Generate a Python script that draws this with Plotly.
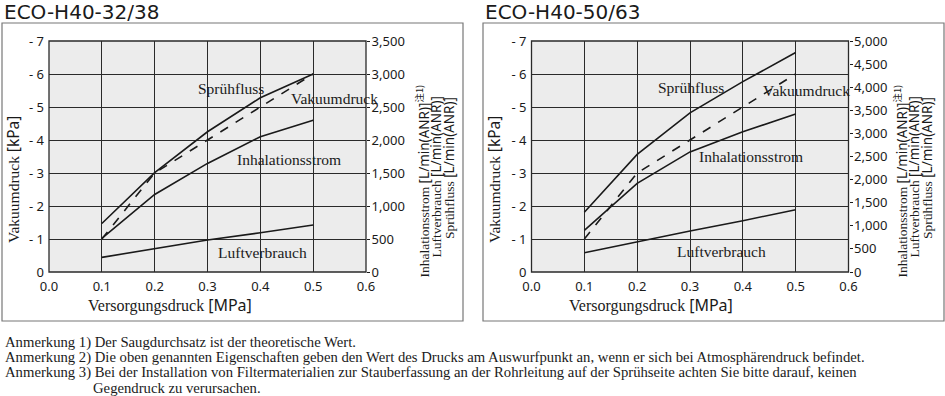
import plotly.graph_objects as go

# ---------------- data ----------------
pressure = [0.1, 0.2, 0.3, 0.4, 0.5]

# ECO-H40-32/38
left_spray = [735, 1505, 2125, 2640, 3000]        # Sprühfluss [L/min]
left_vacuum = [-1.0, -3.0, -4.0, -5.0, -6.0]      # Vakuumdruck [kPa]
left_inhal = [510, 1175, 1645, 2050, 2300]        # Inhalationsstrom [L/min]
left_air = [222, 348, 485, 595, 712]              # Luftverbrauch [L/min]

# ECO-H40-50/63
right_spray = [1295, 2545, 3445, 4120, 4750]
right_vacuum = [-1.0, -3.0, -4.0, -5.0, -6.0]
right_inhal = [900, 1920, 2600, 3035, 3420]
right_air = [418, 656, 887, 1110, 1349]

titles = ["ECO-H40-32/38", "ECO-H40-50/63"]
left_ticks = [0, -1, -2, -3, -4, -5, -6, -7]
left_ticktext = ["0", "- 1", "- 2", "- 3", "- 4", "- 5", "- 6", "- 7"]
x_ticks = [0.0, 0.1, 0.2, 0.3, 0.4, 0.5, 0.6]
right_max = [3500, 5000]

notes = [
    "Anmerkung 1) Der Saugdurchsatz ist der theoretische Wert.",
    "Anmerkung 2) Die oben genannten Eigenschaften geben den Wert des Drucks am Auswurfpunkt an, wenn er sich bei Atmosphärendruck befindet.",
    "Anmerkung 3) Bei der Installation von Filtermaterialien zur Stauberfassung an der Rohrleitung auf der Sprühseite achten Sie bitte darauf, keinen",
    "Gegendruck zu verursachen.",
]

# ---------------- layout helpers ----------------
W, H = 945, 396
def px(x):
    return x / W
def py(y):
    return 1 - y / H

SERIF = "Liberation Serif, Times New Roman, serif"
SANS = "Noto Sans, Open Sans, sans-serif"
INK = "#1a1a1a"

fig = go.Figure()

line = dict(color=INK, width=1.6)
dash = dict(color=INK, width=1.6, dash="dash")

panels = [
    dict(xa="x", ya="y", ya2="y2", spray=left_spray, vac=left_vacuum, inhal=left_inhal, air=left_air),
    dict(xa="x2", ya="y3", ya2="y4", spray=right_spray, vac=right_vacuum, inhal=right_inhal, air=right_air),
]
for p in panels:
    fig.add_trace(go.Scatter(x=pressure, y=p["spray"], xaxis=p["xa"], yaxis=p["ya2"], mode="lines", line=line, name="Sprühfluss"))
    fig.add_trace(go.Scatter(x=pressure, y=p["inhal"], xaxis=p["xa"], yaxis=p["ya2"], mode="lines", line=line, name="Inhalationsstrom"))
    fig.add_trace(go.Scatter(x=pressure, y=p["air"], xaxis=p["xa"], yaxis=p["ya2"], mode="lines", line=line, name="Luftverbrauch"))
    fig.add_trace(go.Scatter(x=pressure, y=p["vac"], xaxis=p["xa"], yaxis=p["ya"], mode="lines", line=dash, name="Vakuumdruck"))

ydom = [py(272), py(41)]
xdoms = [[px(49), px(366)], [px(531.5), px(848.5)]]

tickfont = dict(family=SANS, size=13, color=INK)
grid = dict(showgrid=True, gridcolor="#2a2a2a", gridwidth=1.3)

common_x = dict(range=[0, 0.6], tickvals=x_ticks, tickformat=".1f", tickfont=tickfont,
                zeroline=False, showline=False, ticks="", automargin=False, ticklabelstandoff=5, **grid)
common_yl = dict(domain=ydom, range=[0, -7], tickvals=left_ticks, ticktext=left_ticktext,
                 tickfont=tickfont, zeroline=False, showline=False, ticks="", automargin=False,
                 ticklabelstandoff=4, **grid)
common_yr = dict(domain=ydom, side="right", dtick=500, tickformat=",d", tickfont=tickfont,
                 showgrid=False, zeroline=False, ticks="outside", ticklen=3, tickcolor=INK,
                 tickwidth=1.2, showline=False, automargin=False, ticklabelstandoff=-1)
fig.update_layout(
    xaxis=dict(domain=xdoms[0], anchor="y", **common_x),
    xaxis2=dict(domain=xdoms[1], anchor="y3", **common_x),
    yaxis=dict(anchor="x", **common_yl),
    yaxis2=dict(anchor="x", overlaying="y", range=[0, right_max[0]], **common_yr),
    yaxis3=dict(anchor="x2", **common_yl),
    yaxis4=dict(anchor="x2", overlaying="y3", range=[0, right_max[1]], **common_yr),
    width=W, height=H,
    margin=dict(l=0, r=0, t=0, b=0, pad=0, autoexpand=False),
    paper_bgcolor="white",
    plot_bgcolor="#ececec",
    showlegend=False,
)

shapes = []
# plot frames
for xd in xdoms:
    shapes.append(dict(type="rect", xref="paper", yref="paper", x0=xd[0], x1=xd[1], y0=ydom[0], y1=ydom[1],
                       line=dict(color="#2a2a2a", width=1.3)))
# outer panel boxes
for x0, x1 in [(2, 463), (483, 944)]:
    shapes.append(dict(type="rect", xref="paper", yref="paper", x0=px(x0), x1=px(x1), y0=py(321), y1=py(23),
                       line=dict(color="#777777", width=1.2)))
fig.update_layout(shapes=shapes)

ann = []
def text(x, y, t, size=15, family=SERIF, xanchor="center", yanchor="middle", angle=0, align="center"):
    ann.append(dict(x=px(x), y=py(y), xref="paper", yref="paper", text=t, showarrow=False,
                    font=dict(family=family, size=size, color=INK), xanchor=xanchor, yanchor=yanchor,
                    textangle=angle, align=align))

# titles
text(2, 12, titles[0], size=20, family="DejaVu Sans, sans-serif", xanchor="left")
text(483, 12, titles[1], size=20, family="DejaVu Sans, sans-serif", xanchor="left")

sans_span = '<span style="font-family:Noto Sans, sans-serif">'

# in-plot labels (left)
text(231, 89, "Sprühfluss", size=15.5)
text(334, 98, "Vakuumdruck", size=15.5)
text(289, 159, "Inhalationsstrom", size=15.5)
text(262, 252, "Luftverbrauch", size=15.5)
# in-plot labels (right)
text(691, 87, "Sprühfluss", size=15.5)
text(806, 91, "Vakuumdruck", size=15.5)
text(751, 157, "Inhalationsstrom", size=15.5)
text(721, 251, "Luftverbrauch", size=15.5)

# axis titles
for off in (0, 481):
    text(13 + off, 180, "Vakuumdruck " + sans_span + "[kPa]</span>", size=15.5, angle=-90)
    text(170 + off, 305, "Versorgungsdruck " + sans_span + "[MPa]</span>", size=16)

rt_lines = [
    "Inhalationsstrom " + sans_span + "[L/min(ANR)]</span><sup>" +
    '<span style="font-family:Noto Sans CJK JP">注1)</span></sup>',
    "Luftverbrauch " + sans_span + "[L/min(ANR)]</span>",
    "Sprühfluss " + sans_span + "[L/min(ANR)]</span>",
]
rt_tops = [83, 95, 95]
for xs in ([423, 436, 449], [901, 914, 927]):
    for t, x, top in zip(rt_lines, xs, rt_tops):
        text(x, top, t, size=13.5, angle=-90, yanchor="top")

# notes
note_y = [342, 357, 372, 388]
note_x = [3, 3, 3, 91]
for t, x, y in zip(notes, note_x, note_y):
    text(x, y, t, size=14.7, xanchor="left")

fig.update_layout(annotations=ann)
fig.write_html("out.html", config={"displayModeBar": False},
               post_script="document.body.style.margin='0';document.body.style.overflow='hidden';")
